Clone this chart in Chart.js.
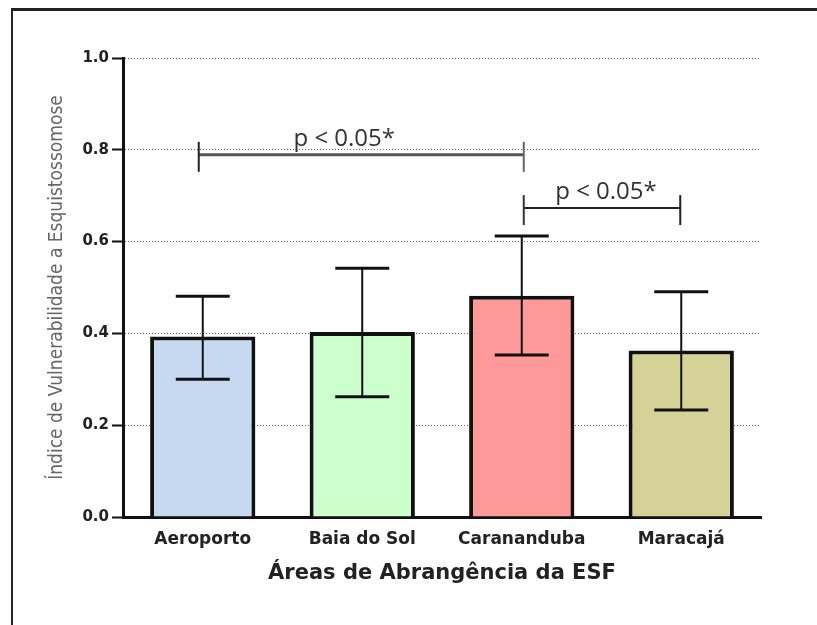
<!DOCTYPE html>
<html>
<head>
<meta charset="utf-8">
<script src="https://cdn.jsdelivr.net/npm/chart.js@4/dist/chart.umd.min.js"></script>
<style>
  html, body { margin: 0; padding: 0; background: #fff; }
  #wrap { position: relative; width: 817px; height: 625px; }
  #frame { position: absolute; left: 11px; top: 8px; right: 0; bottom: 0; border-top: 3px solid #222; border-left: 2px solid #222; pointer-events: none; }
  canvas { position: absolute; left: 0; top: 0; }
</style>
</head>
<body>
<div id="wrap">
  <canvas id="c" width="817" height="625"></canvas>
  <div id="frame"></div>
</div>
<script>
// ---- data ----
const categories = ["Aeroporto", "Baia do Sol", "Caranandu" + "ba", "Maracajá"];
const means = [0.393, 0.403, 0.482, 0.363];
const errLow = [0.30, 0.262, 0.353, 0.233];
const errHigh = [0.481, 0.542, 0.612, 0.491];
const barColors = ["#c6d9f1", "#ccffcc", "#ff9999", "#d5d297"];
const yTicks = [0, 0.2, 0.4, 0.6, 0.8, 1.0];
const comparisons = [[0, 2], [2, 3]];
const comparisonLevels = [0.789, 0.673];
const comparisonLabels = ["p < 0.05*", "p < 0.05*"];
const yTitle = "Índice de Vulnerabilidade a Esquistossomose";
const xTitle = "Áreas de Abrangência da ESF";

const extrasPlugin = {
  id: 'extras',
  afterDatasetsDraw(chart) {
    const ctx = chart.ctx;
    const x = chart.scales.x, y = chart.scales.y;
    ctx.save();
    // error bars
    for (let i = 0; i < means.length; i++) {
      const cx = x.getPixelForValue(i);
      const yl = y.getPixelForValue(errLow[i]);
      const yh = y.getPixelForValue(errHigh[i]);
      ctx.strokeStyle = '#111';
      ctx.lineWidth = 2;
      ctx.beginPath(); ctx.moveTo(cx, yl); ctx.lineTo(cx, yh); ctx.stroke();
      ctx.lineWidth = 3;
      ctx.beginPath(); ctx.moveTo(cx - 27, yh); ctx.lineTo(cx + 27, yh); ctx.stroke();
      ctx.beginPath(); ctx.moveTo(cx - 27, yl); ctx.lineTo(cx + 27, yl); ctx.stroke();
    }
    // significance brackets
    const styles = [{c: '#555', w: 3}, {c: '#222', w: 2}];
    comparisons.forEach((pair, k) => {
      const x1 = x.getPixelForValue(pair[0]) - (k === 0 ? 4 : -2);
      const x2 = x.getPixelForValue(pair[1]) + (k === 0 ? 2 : -1);
      const ly = y.getPixelForValue(comparisonLevels[k]);
      ctx.strokeStyle = styles[k].c;
      ctx.lineWidth = styles[k].w;
      ctx.beginPath(); ctx.moveTo(x1, ly); ctx.lineTo(x2, ly); ctx.stroke();
      ctx.lineWidth = 2;
      ctx.strokeStyle = k === 0 ? '#222' : '#333';
      ctx.beginPath(); ctx.moveTo(x1, ly - 13); ctx.lineTo(x1, ly + 17); ctx.stroke();
      ctx.strokeStyle = k === 0 ? '#666' : '#222';
      ctx.beginPath(); ctx.moveTo(x2, ly - 13); ctx.lineTo(x2, ly + 17); ctx.stroke();
      ctx.fillStyle = '#333';
      ctx.font = '24px "Open Sans", sans-serif';
      ctx.textAlign = 'center';
      ctx.textBaseline = 'alphabetic';
      const tx = (x1 + x2) / 2 + (k === 0 ? -17 : 4);
      ctx.fillText(comparisonLabels[k], tx, ly - 9);
    });
    ctx.restore();
  }
};

new Chart(document.getElementById('c'), {
  type: 'bar',
  data: {
    labels: categories,
    datasets: [{
      data: means,
      backgroundColor: barColors,
      borderColor: '#111',
      borderWidth: 4,
      borderSkipped: 'start',
      barPercentage: 0.66,
      categoryPercentage: 1.0
    }]
  },
  options: {
    responsive: false,
    animation: false,
    devicePixelRatio: 1,
    layout: { padding: { left: 40, top: 58, right: 56, bottom: 39 } },
    plugins: { legend: { display: false }, tooltip: { enabled: false } },
    scales: {
      x: {
        grid: { display: false },
        border: { display: true, color: '#111', width: 3 },
        ticks: {
          color: '#222',
          font: { family: '"DejaVu Sans", sans-serif', weight: 'bold', size: 17 },
          padding: 4,
          maxRotation: 0
        },
        title: {
          display: true,
          text: xTitle,
          color: '#222',
          font: { family: '"DejaVu Sans", sans-serif', weight: 'bold', size: 21 },
          padding: { top: 0, bottom: 0 }
        },
        afterFit(s) { s.height = 69; }
      },
      y: {
        min: 0, max: 1,
        afterBuildTicks(s) { s.ticks = yTicks.map(v => ({ value: v })); },
        grid: {
          color: '#666',
          lineWidth: 1,
          tickLength: 11,
          tickColor: '#111',
          tickWidth: 2,
          tickBorderDash: [],
          drawOnChartArea: true
        },
        border: { display: true, color: '#111', width: 3, dash: [1, 2] },
        ticks: {
          color: '#222',
          font: { family: '"DejaVu Sans", sans-serif', weight: 'bold', size: 15 },
          padding: 3,
          callback: v => Number(v).toFixed(1)
        },
        title: {
          display: true,
          text: yTitle,
          color: '#666',
          font: { family: '"Liberation Sans Narrow", "DejaVu Sans Condensed", "Liberation Sans", sans-serif', size: 19 },
          padding: { top: 6, bottom: 0 }
        },
        afterFit(s) { s.width = 83; }
      }
    }
  },
  plugins: [extrasPlugin]
});
</script>
</body>
</html>
